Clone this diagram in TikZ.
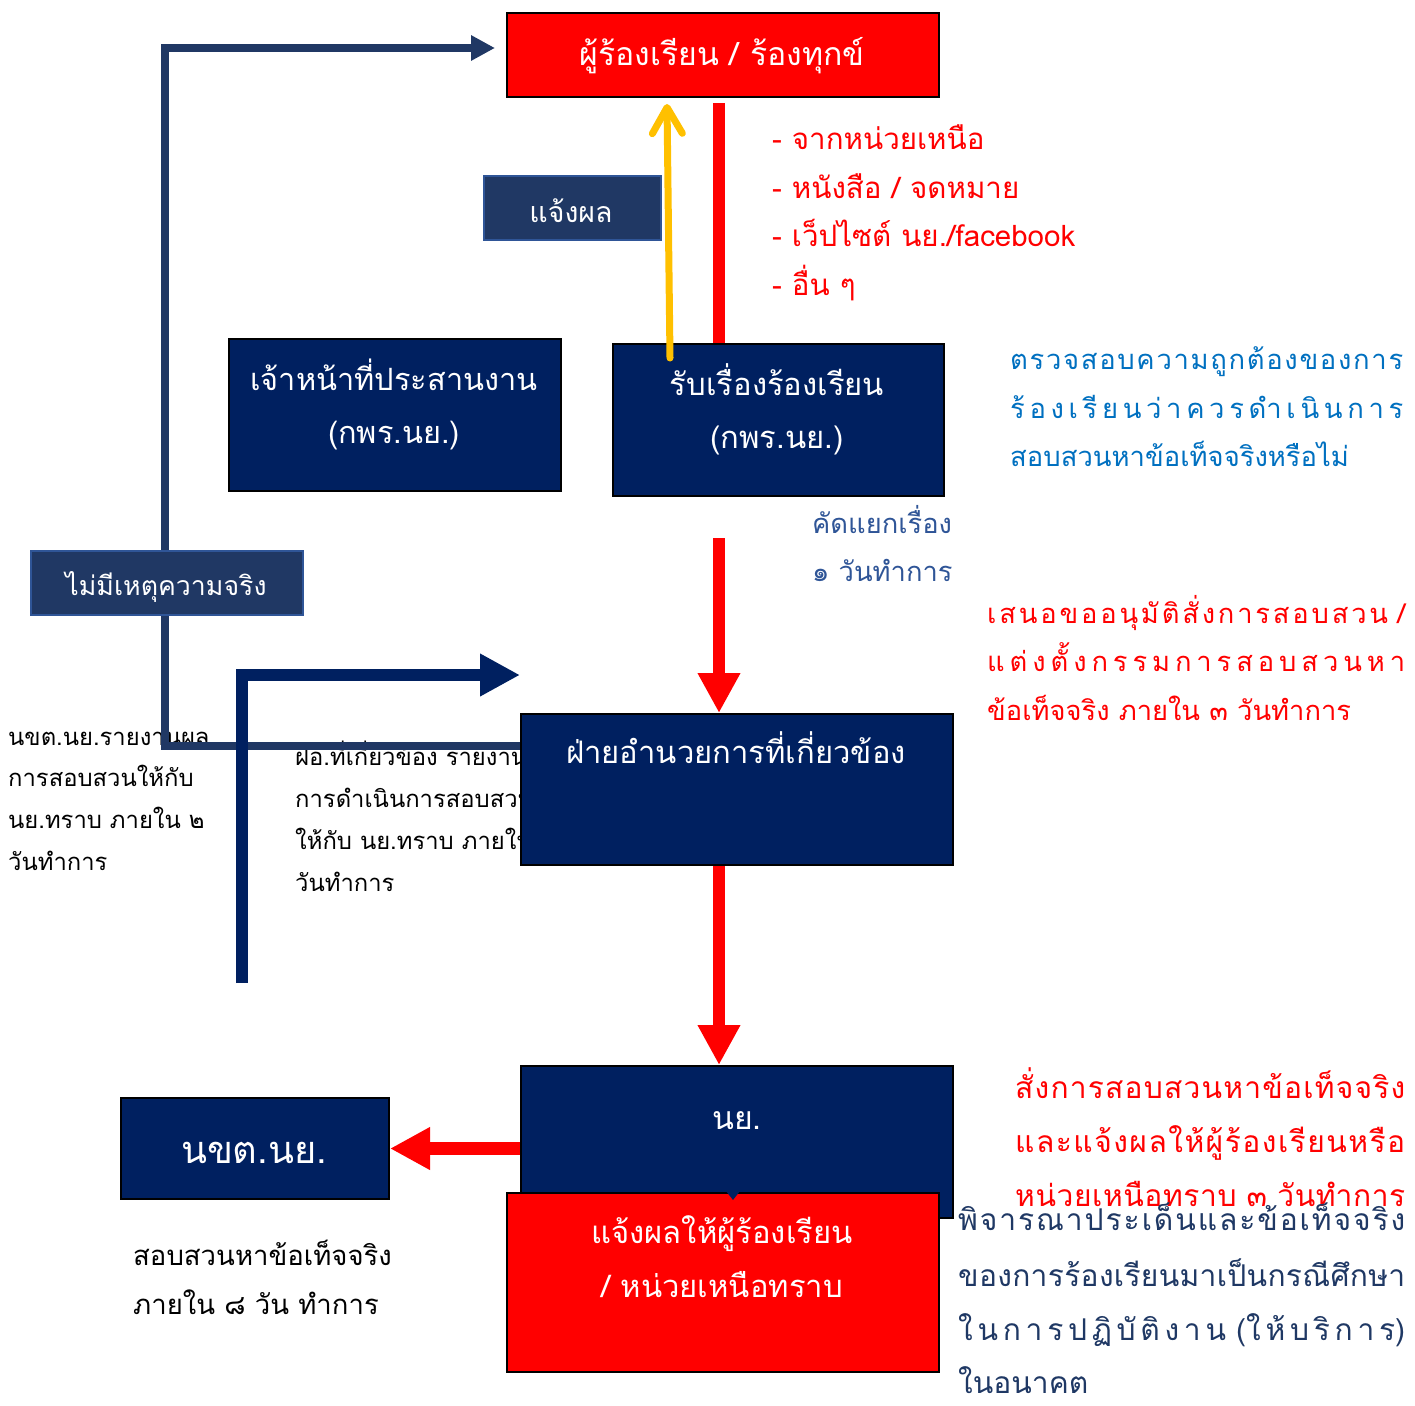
\documentclass[tikz,border=0pt]{standalone}
\usepackage{fontspec}
\setmainfont[Script=Thai]{Loma}
\usetikzlibrary{arrows.meta}
\definecolor{navybox}{HTML}{002060}
\definecolor{slate}{HTML}{203864}
\definecolor{slateedge}{HTML}{2F5597}
\definecolor{pptred}{HTML}{FF0000}
\definecolor{pptyellow}{HTML}{FFC000}
\definecolor{pptblue}{HTML}{0070C0}
\definecolor{steel}{HTML}{2F5597}
\definecolor{navytext}{HTML}{1F3864}
\pgfdeclarelayer{bg}
\pgfsetlayers{bg,main}
% inter-character glue for justified Thai lines
\newXeTeXintercharclass\thbase
\newXeTeXintercharclass\thmark
\newcount\thc
\thc="0E01
\loop\XeTeXcharclass\thc=\thbase\advance\thc by 1\relax\ifnum\thc<"0E5C\repeat
\XeTeXcharclass"0E31=\thmark
\XeTeXcharclass"0E33=\thmark
\thc="0E34
\loop\XeTeXcharclass\thc=\thmark\advance\thc by 1\relax\ifnum\thc<"0E3B\repeat
\thc="0E47
\loop\XeTeXcharclass\thc=\thmark\advance\thc by 1\relax\ifnum\thc<"0E4F\repeat
\XeTeXinterchartoks\thbase\thbase={\hskip0pt plus 1fil\relax}
\XeTeXinterchartoks\thmark\thbase={\hskip0pt plus 1fil\relax}
\newcommand\just[2]{\makebox[#1pt][s]{\XeTeXinterchartokenstate=1\relax #2}}
\newcommand\fs[1]{\fontsize{#1}{#1}\selectfont}
\tikzset{
  navynode/.style={draw=black, line width=2pt, fill=navybox, anchor=north west, inner sep=0pt},
  rednode/.style={draw=black, line width=2pt, fill=pptred, anchor=north west, inner sep=0pt},
  slatenode/.style={draw=slateedge, line width=2pt, fill=slate, anchor=north west, inner sep=0pt},
  tx/.style={inner sep=0pt, anchor=west},
  ctx/.style={inner sep=0pt, anchor=center, text=white},
  sz/.style={font=\fs{#1}, text height=0.85*#1pt, text depth=0.15*#1pt},
  redconn/.style={draw=pptred, line width=12pt},
  redarrow/.style={redconn, -{Triangle[length=40pt,width=40pt]}},
  slatearrow/.style={draw=slate, line width=8pt, line join=miter, -{Triangle[length=24pt,width=24pt]}},
  navyarrow/.style={draw=navybox, line width=12pt, line join=miter, -{Triangle[length=40pt,width=40pt]}},
  yellowarrow/.style={draw=pptyellow, line width=7pt, line cap=round, -{Straight Barb[length=26pt,width=30pt,line cap=round,line join=round]}},
}
\begin{document}
\begin{tikzpicture}[x=1pt,y=-1pt]
\useasboundingbox (0,0) rectangle (1415,1405);

% ---- boxes
\node[rednode, minimum width=432, minimum height=84] (top) at (506,12) {};
\node[navynode, minimum width=332, minimum height=152] (coord) at (228,338) {};
\node[navynode, minimum width=331, minimum height=152] (recv) at (612,343) {};
\node[navynode, minimum width=432, minimum height=151] (faay) at (520,713) {};

% ---- coordinates for connector paths
\coordinate (c1) at (165,746);
\coordinate (c2) at (165,48);
\coordinate (l1tip) at (495,48);
\coordinate (d0) at (242,983);
\coordinate (d1) at (242,675);

\begin{pgfonlayer}{bg}
% text partly hidden behind the box and the line
\node[tx, sz=23.8] (m1) at (295,757) {ฝอ.ที่เกี่ยวข้อง รายงานผล};
\node[tx, sz=23.8] (m2) at (295,799) {การดำเนินการสอบสวน};
\node[tx, sz=23.8] (m3) at (295,841) {ให้กับ นย.ทราบ ภายใน ๒};
\node[tx, sz=23.8] (m4) at (295,883) {วันทำการ};
\node[tx, sz=23.8] (l1) at (8,737) {นขต.นย.รายงานผล};
\node[tx, sz=23.8] (l2) at (8,778) {การสอบสวนให้กับ};
\node[tx, sz=23.8] (l3) at (8,820) {นย.ทราบ ภายใน ๒};
\node[tx, sz=23.8] (l4) at (8,862) {วันทำการ};
\draw[slatearrow] (faay.west |- c1) -- (c1) -- (c2) -- (l1tip);
\draw[navyarrow] (d0) -- (d1) -- (faay.west |- d1);
\end{pgfonlayer}

\node[slatenode, minimum width=177, minimum height=64] (jaeng) at (483,175) {};
\node[slatenode, minimum width=272, minimum height=64] (maimi) at (30,550) {};
\node[navynode, minimum width=432, minimum height=152] (ny) at (520,1065) {};
\node[navynode, minimum width=268, minimum height=101] (nkt) at (120,1097) {};
\node[rednode, minimum width=432, minimum height=179] (notify) at (506,1192) {};

% ---- box texts
\node[ctx, sz=32] (topt) at (722,54) {ผู้ร้องเรียน / ร้องทุกข์};
\node[ctx, sz=28.5] (jaengt) at (571,213) {แจ้งผล};
\node[ctx, sz=26.7] (maimit) at (166,586) {ไม่มีเหตุความจริง};
\node[ctx, sz=30.7] (coordt1) at (394,380) {เจ้าหน้าที่ประสานงาน};
\node[ctx, sz=30.7] (coordt2) at (394,433) {(กพร.นย.)};
\node[ctx, sz=31] (recvt1) at (777,385) {รับเรื่องร้องเรียน};
\node[ctx, sz=31] (recvt2) at (777,438) {(กพร.นย.)};
\node[ctx, sz=31] (faayt) at (736,753) {ฝ่ายอำนวยการที่เกี่ยวข้อง};
\node[ctx, sz=32] (nyt) at (737,1118) {นย.};
\node[ctx, sz=38] (nktt) at (254,1150) {นขต.นย.};
\node[ctx, sz=31] (notifyt1) at (722,1233) {แจ้งผลให้ผู้ร้องเรียน};
\node[ctx, sz=31] (notifyt2) at (722,1287) {/ หน่วยเหนือทราบ};

% ---- red connectors
\coordinate (r1a) at (719,103);
\draw[redconn] (r1a) -- (recv.north -| r1a);
\coordinate (r2a) at (719,538);
\draw[redarrow] (r2a) -- (faay.north -| r2a);
\draw[redarrow] (faay.south -| r2a) -- (ny.north -| r2a);
\draw[redarrow, line width=13pt] (ny.west |- nkt.east) -- (nkt.east);
\draw[navybox, line width=2pt, -{Triangle[length=8pt,width=12pt]}] (733,1186) -- (733,1200);

% ---- yellow arrow
\coordinate (y0) at (670,358);
\coordinate (ytip) at (667,104);
\draw[yellowarrow] (y0) -- (ytip);

% ---- red list
\node[tx, sz=29.5, text=pptred] (s1) at (772,139) {- จากหน่วยเหนือ};
\node[tx, sz=29.5, text=pptred] (s2) at (772,188) {- หนังสือ / จดหมาย};
\node[tx, sz=29.5, text=pptred] (s3) at (772,236) {- เว็ปไซต์ นย./facebook};
\node[tx, sz=29.5, text=pptred] (s4) at (772,285) {- อื่น ๆ};

% ---- blue text
\node[tx, sz=27.4, text=pptblue] (b1) at (1010,360) {\just{393}{ตรวจสอบความถูกต้องของการ}};
\node[tx, sz=27.4, text=pptblue] (b2) at (1010,409) {\just{393}{ร้องเรียนว่าควรดำเนินการ}};
\node[tx, sz=27.4, text=pptblue] (b3) at (1010,457) {สอบสวนหาข้อเท็จจริงหรือไม่};

% ---- steel text
\node[tx, sz=27.3, text=steel] (k1) at (812,524) {คัดแยกเรื่อง};
\node[tx, sz=27.3, text=steel] (k2) at (812,572) {๑ วันทำการ};

% ---- red paragraph
\node[tx, sz=27.3, text=pptred] (p1) at (987,614) {\just{418}{เสนอขออนุมัติสั่งการสอบสวน /}};
\node[tx, sz=27.3, text=pptred] (p2) at (987,662) {\just{418}{แต่งตั้งกรรมการสอบสวนหา}};
\node[tx, sz=27.3, text=pptred] (p3) at (987,711) {ข้อเท็จจริง ภายใน ๓ วันทำการ};

% ---- bottom left text
\node[tx, sz=27.5] (q1) at (133,1256) {สอบสวนหาข้อเท็จจริง};
\node[tx, sz=27.5] (q2) at (133,1305) {ภายใน ๘ วัน ทำการ};

% ---- bottom right red
\node[tx, sz=30, text=pptred] (u1) at (1015,1088) {\just{390}{สั่งการสอบสวนหาข้อเท็จจริง}};
\node[tx, sz=30, text=pptred] (u2) at (1015,1142) {\just{390}{และแจ้งผลให้ผู้ร้องเรียนหรือ}};
\node[tx, sz=30, text=pptred] (u3) at (1015,1196) {\just{390}{หน่วยเหนือทราบ ๓ วันทำการ}};

% ---- bottom right navy
\node[tx, sz=30, text=navytext] (v1) at (958,1220) {\just{447}{พิจารณาประเด็นและข้อเท็จจริง}};
\node[tx, sz=30, text=navytext] (v2) at (958,1276) {\just{447}{ของการร้องเรียนมาเป็นกรณีศึกษา}};
\node[tx, sz=30, text=navytext] (v3) at (958,1330) {\just{447}{ในการปฏิบัติงาน (ให้บริการ)}};
\node[tx, sz=30, text=navytext] (v4) at (958,1383) {ในอนาคต};
\end{tikzpicture}
\end{document}
